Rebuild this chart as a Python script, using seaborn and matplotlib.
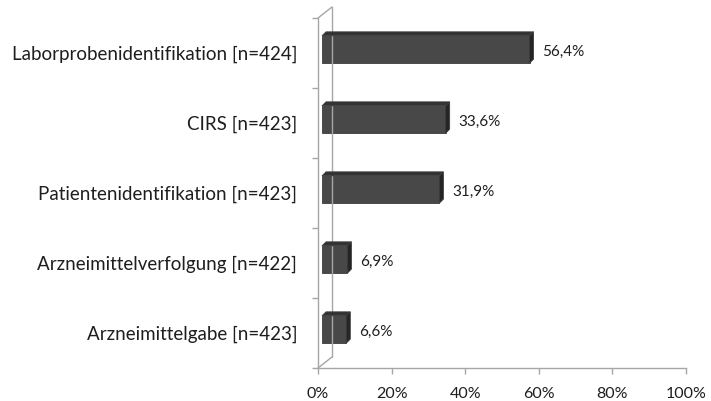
import matplotlib
matplotlib.use("Agg")
import matplotlib.pyplot as plt
import matplotlib.transforms as mtransforms
from matplotlib.patches import Polygon
from matplotlib.lines import Line2D
from matplotlib.ticker import FixedLocator, FuncFormatter
import seaborn as sns
import pandas as pd

# Share of hospitals using each measure (percent)
categories = [
    "Laborprobenidentifikation [n=424]",
    "CIRS [n=423]",
    "Patientenidentifikation [n=423]",
    "Arzneimittelverfolgung [n=422]",
    "Arzneimittelgabe [n=423]",
]
values = [56.4, 33.6, 31.9, 6.9, 6.6]
x_ticks = [0, 20, 40, 60, 80, 100]

sns.set_theme(style="white")
plt.rcParams["font.family"] = ["Lato", "DejaVu Sans"]

W, H, DPI = 711, 401, 100
fig = plt.figure(figsize=(W / DPI, H / DPI), dpi=DPI)
ax = fig.add_axes([318 / W, (H - 368) / H, 368 / W, 350 / H])

df = pd.DataFrame({"Maßnahme": categories, "Anteil": values})

FRONT = "#484848"
TOP = "#333333"
SIDE = "#252525"
EDGE = "#3c3c3c"
AXIS = "#a6a6a6"
TEXT = "#1e1e1e"

BAR_H = 0.39          # bar thickness in category units
DEPTH1 = (4, 3.5)     # front face offset (px) from the front plane
DEPTH2 = (8, 7.5)     # back face offset (px)
WALL = (14, 11)       # back wall offset (px)

sns.barplot(data=df, x="Anteil", y="Maßnahme", orient="h", ax=ax,
            color=FRONT, width=BAR_H, saturation=1, edgecolor=EDGE,
            linewidth=0.6)

ax.set_xlim(0, 100)
ax.set_ylim(len(categories) - 0.5, -0.5)

# shift the front faces into depth
front_tr = mtransforms.offset_copy(ax.transData, fig, x=DEPTH1[0], y=DEPTH1[1], units="dots")
for p in ax.patches:
    p.set_transform(front_tr)
    p.set_zorder(3)

ident = mtransforms.IdentityTransform()


def px(x, y, d=(0, 0)):
    X, Y = ax.transData.transform((x, y))
    return (X + d[0], Y + d[1])


# top and side faces of each bar, plus the value label
for i, v in enumerate(values):
    top_y = i - BAR_H / 2
    bot_y = i + BAR_H / 2
    top = [px(0, top_y, DEPTH1), px(v, top_y, DEPTH1), px(v, top_y, DEPTH2), px(0, top_y, DEPTH2)]
    side = [px(v, top_y, DEPTH1), px(v, bot_y, DEPTH1), px(v, bot_y, DEPTH2), px(v, top_y, DEPTH2)]
    fig.add_artist(Polygon(top, closed=True, transform=ident, facecolor=TOP,
                           edgecolor=EDGE, linewidth=0.6, zorder=4))
    fig.add_artist(Polygon(side, closed=True, transform=ident, facecolor=SIDE,
                           edgecolor=EDGE, linewidth=0.6, zorder=4))
    label = f"{v:.1f}".replace(".", ",") + "%"
    lx, _ = px(v, i, DEPTH2)
    _, ly = px(v, i, DEPTH1)
    fig.text(lx + 9, ly - 2, label, transform=ident, ha="left", va="center",
             fontsize=11, color=TEXT, zorder=5)

# back wall edge and the diagonals joining it to the front axis
y0, y1 = -0.5, len(categories) - 0.5
for pts in ([px(0, y0, WALL), px(0, y1, WALL)],
            [px(0, y0), px(0, y0, WALL)],
            [px(0, y1), px(0, y1, WALL)]):
    xs, ys = zip(*pts)
    fig.add_artist(Line2D(xs, ys, transform=ident, color=AXIS, linewidth=1.0, zorder=1))

# axes styling
for s in ("top", "right"):
    ax.spines[s].set_visible(False)
for s in ("left", "bottom"):
    ax.spines[s].set_color(AXIS)
    ax.spines[s].set_linewidth(1.0)

ax.set_xticks(x_ticks)
ax.xaxis.set_major_formatter(FuncFormatter(lambda v, _: f"{v:.0f}%"))
ax.tick_params(axis="x", direction="out", length=4, width=1.0, color=AXIS,
               labelsize=11.5, pad=10, labelcolor=TEXT, bottom=True)
ax.yaxis.set_minor_locator(FixedLocator([k - 0.5 for k in range(len(categories) + 1)]))
ax.tick_params(axis="y", which="minor", direction="out", length=4, width=1.0,
               color=AXIS, left=True)
ax.tick_params(axis="y", which="major", length=0, pad=15, labelsize=13.5,
               labelcolor=TEXT)
ax.set_xlabel("")
ax.set_ylabel("")
ax.patch.set_visible(False)

fig.savefig("out.png", dpi=DPI, facecolor="white")
